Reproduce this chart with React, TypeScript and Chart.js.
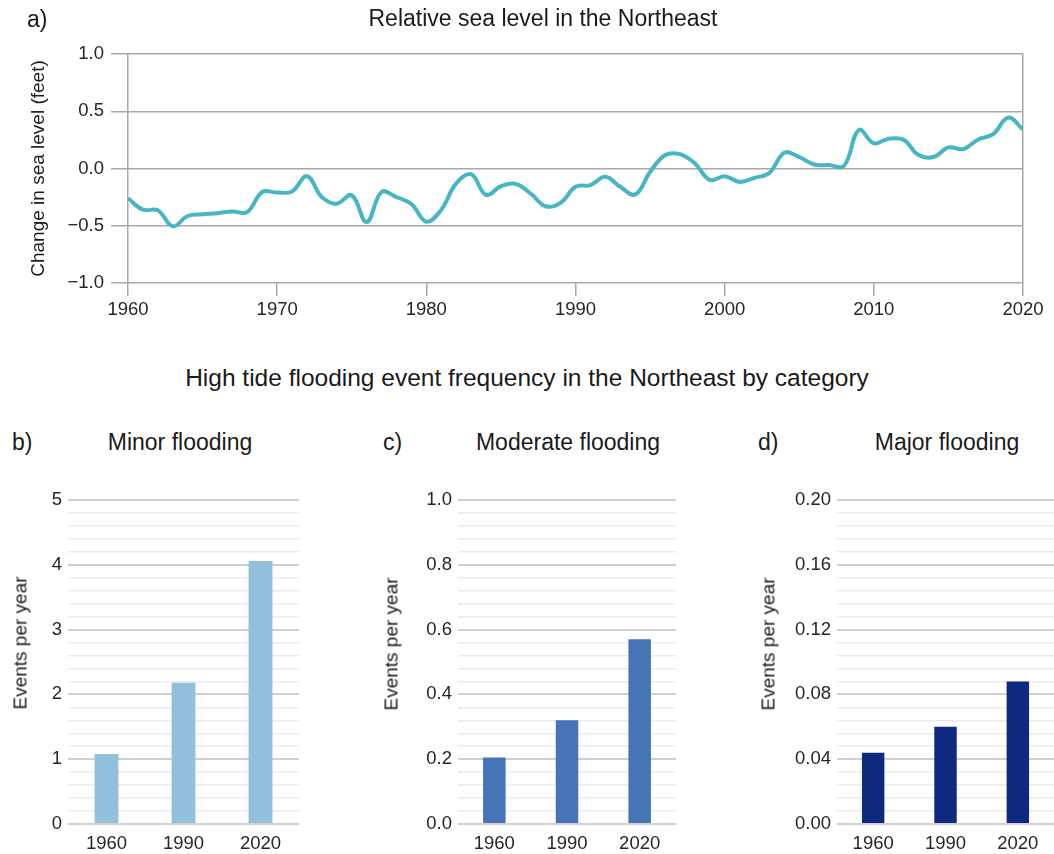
import React, { useEffect, useRef } from 'react';
import { Chart, registerables } from 'chart.js';

Chart.register(...registerables);

const FONT = '"Liberation Sans", Arial, Helvetica, sans-serif';

// ---- Panel a: relative sea level (feet), annual ----
const seaYears = [
  1960, 1961, 1962, 1963, 1964, 1965, 1966, 1967, 1968, 1969,
  1970, 1971, 1972, 1973, 1974, 1975, 1976, 1977, 1978, 1979,
  1980, 1981, 1982, 1983, 1984, 1985, 1986, 1987, 1988, 1989,
  1990, 1991, 1992, 1993, 1994, 1995, 1996, 1997, 1998, 1999,
  2000, 2001, 2002, 2003, 2004, 2005, 2006, 2007, 2008, 2009,
  2010, 2011, 2012, 2013, 2014, 2015, 2016, 2017, 2018, 2019,
  2020,
];
const seaLevelFeet = [
  -0.26, -0.36, -0.365, -0.505, -0.415, -0.4, -0.39, -0.375, -0.38, -0.205,
  -0.21, -0.2, -0.067, -0.25, -0.307, -0.234, -0.468, -0.205, -0.25, -0.31,
  -0.465, -0.36, -0.13, -0.05, -0.23, -0.155, -0.135, -0.22, -0.33, -0.3,
  -0.16, -0.145, -0.073, -0.16, -0.227, -0.03, 0.116, 0.125, 0.045, -0.1,
  -0.067, -0.117, -0.082, -0.038, 0.137, 0.1, 0.035, 0.03, 0.023, 0.336,
  0.22, 0.26, 0.25, 0.117, 0.1, 0.184, 0.17, 0.254, 0.3, 0.444,
  0.342,
];

// ---- Panels b-d: high tide flooding events per year ----
const floodYears = ['1960', '1990', '2020'];
const minorFloodEvents = [1.08, 2.18, 4.06];
const moderateFloodEvents = [0.205, 0.32, 0.57];
const majorFloodEvents = [0.044, 0.06, 0.088];

const TICK_COLOR = '#262626';
const TEXT_COLOR = '#1a1a1a';
const TICK_SIZE = 18.5;

function fmtSigned(v: number, d: number) {
  return Number(v).toFixed(d).replace('-', '\u2212');
}

function seaConfig(height: number): any {
  return {
    type: 'line',
    data: {
      datasets: [
        {
          data: seaYears.map((yr, i) => ({ x: yr, y: seaLevelFeet[i] })),
          borderColor: '#47b6c4',
          borderWidth: 4,
          pointRadius: 0,
          tension: 0.4,
          fill: false,
        },
      ],
    },
    options: {
      responsive: false,
      animation: false,
      devicePixelRatio: 1,
      layout: { padding: { left: 0, right: 31, top: 54, bottom: 0 } },
      plugins: { legend: { display: false }, tooltip: { enabled: false }, title: { display: false } },
      scales: {
        x: {
          type: 'linear',
          min: 1960,
          max: 2020,
          ticks: {
            stepSize: 10,
            autoSkip: false,
            maxRotation: 0,
            padding: 3,
            color: TICK_COLOR,
            font: { family: FONT, size: TICK_SIZE },
            callback: (v: number) => String(v),
          },
          grid: {
            color: (c: any) =>
              c.tick && (c.tick.value === 1960 || c.tick.value === 2020) ? '#a8a8a8' : 'rgba(0,0,0,0)',
            tickColor: '#a8a8a8',
            tickLength: 13,
            lineWidth: 1.5,
          },
          border: { display: false },
          afterFit: (s: any) => {
            s.height = height - 283;
          },
        },
        y: {
          min: -1,
          max: 1,
          ticks: {
            stepSize: 0.5,
            padding: 7,
            color: TICK_COLOR,
            font: { family: FONT, size: TICK_SIZE },
            callback: (v: number) => fmtSigned(v, 1),
          },
          grid: { color: '#a8a8a8', lineWidth: 1.5, tickLength: 17 },
          border: { display: false },
          title: {
            display: true,
            text: 'Change in sea level (feet)',
            color: TEXT_COLOR,
            font: { family: FONT, size: 19 },
            padding: { top: 27, bottom: 0 },
          },
          afterFit: (s: any) => {
            s.width = 128;
          },
        },
      },
    },
  };
}

function barConfig(
  values: number[],
  color: string,
  yMax: number,
  yStep: number,
  decimals: number,
  yAxisWidth: number
) {
  return (height: number): any => ({
    type: 'bar',
    data: {
      labels: floodYears,
      datasets: [
        {
          data: values,
          backgroundColor: color,
          borderWidth: 0,
          barPercentage: 0.31,
          categoryPercentage: 1,
        },
      ],
    },
    options: {
      responsive: false,
      animation: false,
      devicePixelRatio: 1,
      layout: { padding: { left: 0, right: 0, top: 30, bottom: 0 } },
      plugins: { legend: { display: false }, tooltip: { enabled: false }, title: { display: false } },
      scales: {
        x: {
          grid: { display: false, drawTicks: false },
          border: { display: false },
          ticks: {
            color: TICK_COLOR,
            font: { family: FONT, size: TICK_SIZE },
            padding: 9,
            maxRotation: 0,
          },
          afterFit: (s: any) => {
            s.height = 30;
          },
        },
        y: {
          min: 0,
          max: yMax,
          ticks: {
            stepSize: yStep,
            autoSkip: false,
            padding: 6,
            color: TICK_COLOR,
            font: { family: FONT, size: TICK_SIZE },
            callback: (v: number, i: number) => (i % 5 === 0 ? Number(v).toFixed(decimals) : ''),
          },
          grid: {
            drawTicks: false,
            color: (c: any) => (c.index % 5 === 0 ? '#d0d0d0' : '#ebebeb'),
            lineWidth: (c: any) => (c.index % 5 === 0 ? 2 : 1.5),
          },
          border: { display: false },
          afterFit: (s: any) => {
            s.width = yAxisWidth;
          },
        },
      },
    },
  });
}

function ChartCanvas(props: {
  left: number;
  top: number;
  width: number;
  height: number;
  makeConfig: (h: number) => any;
}) {
  const ref = useRef<HTMLCanvasElement>(null);
  useEffect(() => {
    const chart = new Chart(ref.current as HTMLCanvasElement, props.makeConfig(props.height));
    return () => chart.destroy();
  }, []);
  return (
    <canvas
      ref={ref}
      width={props.width}
      height={props.height}
      style={{ position: 'absolute', left: props.left, top: props.top, width: props.width, height: props.height }}
    />
  );
}

function Label(props: { text: string; x: number; top: number; size: number; center?: boolean }) {
  return (
    <div
      style={{
        position: 'absolute',
        left: props.x,
        top: props.top,
        fontFamily: FONT,
        fontSize: props.size,
        lineHeight: 1,
        color: TEXT_COLOR,
        whiteSpace: 'nowrap',
        transform: props.center ? 'translateX(-50%)' : undefined,
      }}
    >
      {props.text}
    </div>
  );
}

function VLabel(props: { text: string; cx: number; cy: number; size: number }) {
  return (
    <div
      style={{
        position: 'absolute',
        left: props.cx,
        top: props.cy,
        fontFamily: FONT,
        fontSize: props.size,
        lineHeight: 1,
        color: TEXT_COLOR,
        whiteSpace: 'nowrap',
        transform: 'translate(-50%, -50%) rotate(-90deg)',
      }}
    >
      {props.text}
    </div>
  );
}

const minorCfg = barConfig(minorFloodEvents, '#92bfdc', 5, 0.2, 0, 68);
const moderateCfg = barConfig(moderateFloodEvents, '#4674b6', 1, 0.04, 1, 98);
const majorCfg = barConfig(majorFloodEvents, '#0e2a80', 0.2, 0.008, 2, 97);

export default function App() {
  return (
    <div
      style={{
        position: 'absolute',
        left: 0,
        top: 0,
        width: 1054,
        height: 854,
        background: '#ffffff',
        overflow: 'hidden',
      }}
    >
      <ChartCanvas left={0} top={0} width={1054} height={340} makeConfig={seaConfig} />
      <Label text="a)" x={27} top={7.5} size={23} />
      <Label text="Relative sea level in the Northeast" x={543} top={7.2} size={23} center />

      <Label
        text="High tide flooding event frequency in the Northeast by category"
        x={527}
        top={366}
        size={24.5}
        center
      />

      <ChartCanvas left={0} top={470} width={299} height={384} makeConfig={minorCfg} />
      <Label text="b)" x={12} top={431} size={23} />
      <Label text="Minor flooding" x={180} top={431} size={23} center />
      <VLabel text="Events per year" cx={20} cy={643} size={19} />

      <ChartCanvas left={360} top={470} width={316} height={384} makeConfig={moderateCfg} />
      <Label text="c)" x={383} top={431} size={23} />
      <Label text="Moderate flooding" x={568} top={431} size={23} center />
      <VLabel text="Events per year" cx={391} cy={644} size={19} />

      <ChartCanvas left={740} top={470} width={314} height={384} makeConfig={majorCfg} />
      <Label text="d)" x={758} top={431} size={23} />
      <Label text="Major flooding" x={947} top={431} size={23} center />
      <VLabel text="Events per year" cx={768} cy={644} size={19} />
    </div>
  );
}
